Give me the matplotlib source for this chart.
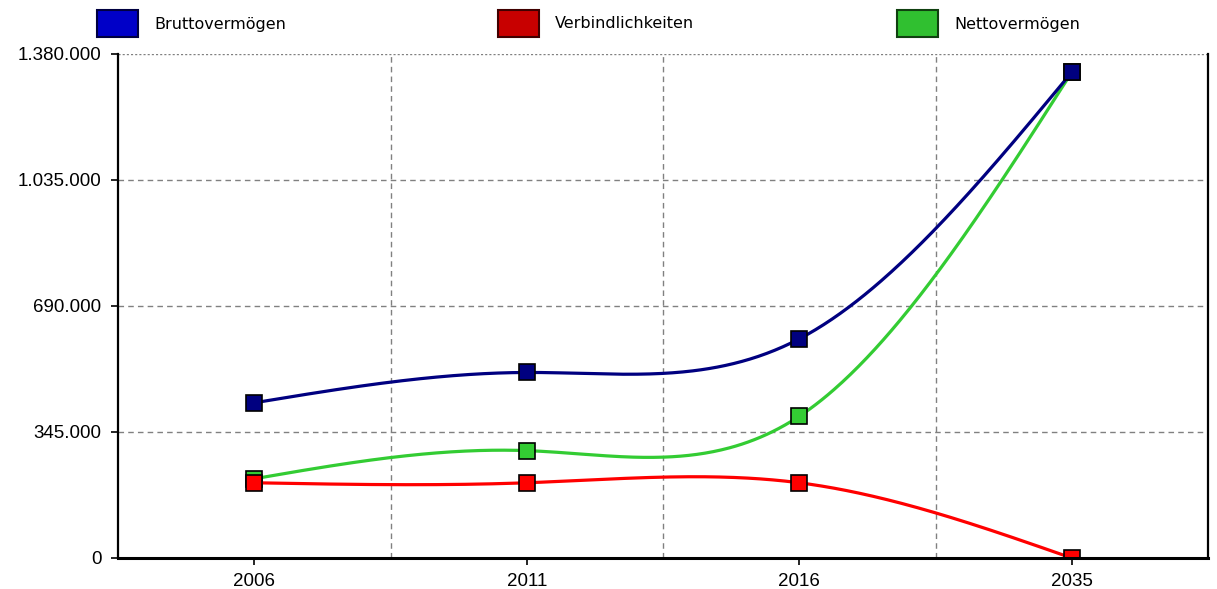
import numpy as np
import matplotlib
matplotlib.use("Agg")
import matplotlib.pyplot as plt
from matplotlib.patches import Rectangle

# ---- data ----
years = ["2006", "2011", "2016", "2035"]
brutto = [425000, 508000, 600000, 1330000]
verbindlichkeiten = [206000, 206000, 206000, 0]
netto = [217000, 294000, 388000, 1330000]
series_names = ["Bruttovermögen", "Verbindlichkeiten", "Nettovermögen"]
y_ticks = [0, 345000, 690000, 1035000, 1380000]

line_colors = {"Bruttovermögen": "#000080", "Verbindlichkeiten": "#FF0000", "Nettovermögen": "#33CC33"}
legend_fill = {"Bruttovermögen": "#0000C8", "Verbindlichkeiten": "#C80000", "Nettovermögen": "#30C030"}
legend_edge = {"Bruttovermögen": "#000040", "Verbindlichkeiten": "#400000", "Nettovermögen": "#104010"}


def natural_spline(y, n=400):
    y = np.asarray(y, dtype=float)
    k = len(y)
    A = np.zeros((k, k))
    b = np.zeros(k)
    A[0, 0] = 1
    A[-1, -1] = 1
    for i in range(1, k - 1):
        A[i, i - 1] = 1
        A[i, i] = 4
        A[i, i + 1] = 1
        b[i] = 6 * (y[i + 1] - 2 * y[i] + y[i - 1])
    M = np.linalg.solve(A, b)
    xs = np.linspace(0, k - 1, n)
    ys = np.empty_like(xs)
    for j, x in enumerate(xs):
        i = min(int(np.floor(x)), k - 2)
        t = x - i
        ys[j] = (M[i] * (1 - t) ** 3 / 6 + M[i + 1] * t ** 3 / 6
                 + (y[i] - M[i] / 6) * (1 - t) + (y[i + 1] - M[i + 1] / 6) * t)
    return xs, ys


fig = plt.figure(figsize=(12.17, 5.89), dpi=100)
ax = fig.add_axes([118 / 1217, 1 - 558 / 589, (1208 - 118) / 1217, (558 - 54) / 589])

data = {"Bruttovermögen": brutto, "Verbindlichkeiten": verbindlichkeiten, "Nettovermögen": netto}
x = np.arange(len(years))
for name, z in [("Nettovermögen", 2), ("Verbindlichkeiten", 3), ("Bruttovermögen", 4)]:
    vals = data[name]
    xs, ys = natural_spline(vals)
    ax.plot(xs, ys, color=line_colors[name], lw=2.3, zorder=z, solid_capstyle="butt")
    ax.plot(x, vals, linestyle="none", marker="s", markersize=11.5,
            markerfacecolor=line_colors[name], markeredgecolor="#000000",
            markeredgewidth=1.2, zorder=z + 0.5)

ax.set_xlim(-0.5, 3.5)
ax.set_ylim(0, 1380000)
ax.set_xticks(x)
ax.set_xticklabels(years)
ax.set_xticks([0.5, 1.5, 2.5], minor=True)
ax.set_yticks(y_ticks)
ax.set_yticklabels([f"{v:,.0f}".replace(",", ".") for v in y_ticks])

ax.grid(False)
for xv in [0.5, 1.5, 2.5]:
    ax.axvline(xv, color="#808080", lw=1, linestyle=(0, (4, 3)), zorder=1)
for yv in y_ticks[1:]:
    ax.axhline(yv, color="#808080", lw=1, linestyle=(0, (4, 3)) if yv != y_ticks[-1] else (0, (1.5, 1.5)), zorder=1)

for lab in ax.get_xticklabels() + ax.get_yticklabels():
    lab.set_fontfamily("Liberation Sans")
    lab.set_fontsize(13.5)
    lab.set_color("#000000")

ax.tick_params(axis="x", which="major", length=5, width=1.2, direction="out", pad=6, color="black")
ax.tick_params(axis="x", which="minor", length=0)
ax.tick_params(axis="y", length=5, width=1.2, direction="out", pad=7, color="black")

ax.spines["top"].set_visible(False)
ax.spines["bottom"].set_linewidth(2.2)
ax.spines["left"].set_linewidth(1.6)
ax.spines["right"].set_linewidth(1.6)
for s in ax.spines.values():
    s.set_color("black")
    s.set_zorder(6)

# ---- legend ----
legend_x = [97, 498, 897]
for name, lx in zip(series_names, legend_x):
    rect = Rectangle((lx / 1217, 1 - 37 / 589), 41 / 1217, 27 / 589,
                     transform=fig.transFigure, facecolor=legend_fill[name],
                     edgecolor=legend_edge[name], lw=1.5)
    fig.patches.append(rect)
    fig.text((lx + 57) / 1217, 1 - 24 / 589, name, fontsize=11.5,
             family="DejaVu Sans", va="center", ha="left", color="#000000")

fig.savefig("out.png", dpi=100)
